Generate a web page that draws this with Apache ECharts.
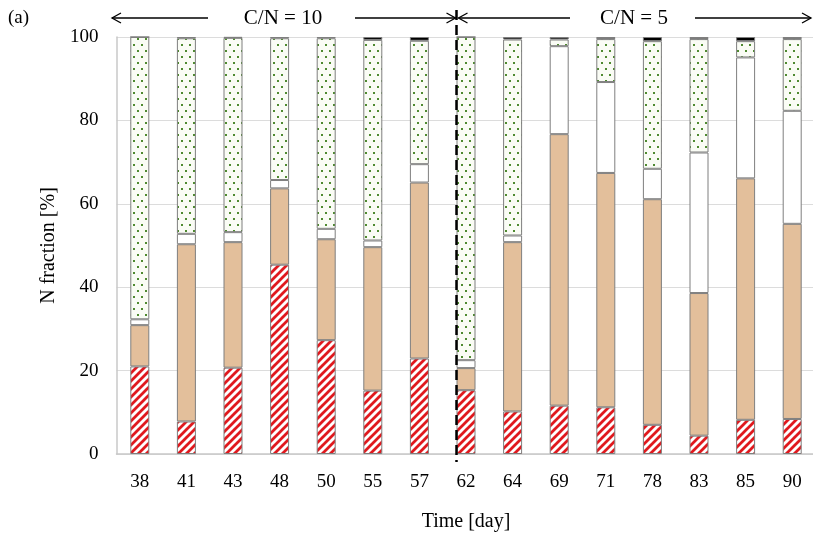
<!DOCTYPE html>
<html>
<head>
<meta charset="utf-8">
<script src="https://cdn.jsdelivr.net/npm/echarts@6/dist/echarts.min.js"></script>
<style>
  html, body { margin: 0; padding: 0; background: #fff; }
  #chart { width: 813px; height: 533px; }
</style>
</head>
<body>
<div id="chart"></div>
<script>
// time points (day)
var days = ['38', '41', '43', '48', '50', '55', '57', '62', '64', '69', '71', '78', '83', '85', '90'];
// N fractions [%], bottom to top of each bar
var hatched = [21.0, 7.8, 20.7, 45.4, 27.3, 15.2, 22.9, 15.3, 10.2, 11.6, 11.2, 7.0, 4.4, 8.2, 8.4];
var tan     = [9.9, 42.5, 30.1, 18.3, 24.2, 34.4, 42.2, 5.3, 40.6, 65.1, 56.2, 54.1, 34.2, 57.9, 46.8];
var blank   = [1.4, 2.5, 2.4, 2.0, 2.5, 1.6, 4.4, 1.9, 1.6, 21.1, 21.8, 7.3, 33.7, 29.0, 27.1];
var dotted  = [67.7, 46.9, 46.6, 34.0, 45.7, 48.1, 29.6, 77.5, 47.0, 1.6, 10.3, 30.6, 27.2, 3.9, 17.2];
var black   = [0, 0.3, 0.2, 0.3, 0.3, 0.7, 0.9, 0, 0.6, 0.6, 0.5, 1.0, 0.5, 1.0, 0.5];
var yTicks  = { min: 0, max: 100, interval: 20 };

var FONT = '"Liberation Serif", "DejaVu Serif", serif';

// red diagonal hatch
function hatchPattern() {
  var c = document.createElement('canvas');
  c.width = 8; c.height = 8;
  var g = c.getContext('2d');
  g.fillStyle = '#fff';
  g.fillRect(0, 0, 8, 8);
  g.strokeStyle = '#e0191e';
  g.lineWidth = 2.8;
  g.beginPath();
  g.moveTo(-2, 10); g.lineTo(10, -2);
  g.moveTo(-6, 6); g.lineTo(6, -6);
  g.moveTo(2, 14); g.lineTo(14, 2);
  g.stroke();
  return c;
}

// green dots
function dotPattern() {
  var c = document.createElement('canvas');
  c.width = 8; c.height = 12;
  var g = c.getContext('2d');
  g.fillStyle = '#fafcf5';
  g.fillRect(0, 0, 8, 12);
  g.fillStyle = '#4f8a30';
  g.fillRect(1, 2, 2, 2);
  g.fillRect(5, 8, 2, 2);
  return c;
}

function bar(name, data, color) {
  return {
    name: name,
    type: 'bar',
    stack: 'n',
    data: data,
    barWidth: 19,
    silent: true,
    itemStyle: { color: color, borderColor: '#7f7f7f', borderWidth: 1 }
  };
}

var chart = echarts.init(document.getElementById('chart'));
var option = {
  animation: false,
  backgroundColor: '#fff',
  grid: { left: 116.5, top: 37, width: 699, height: 417, outerBoundsMode: 'none', containLabel: false },
  xAxis: {
    type: 'category',
    data: days,
    name: 'Time [day]',
    nameLocation: 'middle',
    nameGap: 58,
    nameTextStyle: { fontFamily: FONT, fontSize: 20, color: '#000' },
    axisLine: { lineStyle: { color: '#c8c8c8', width: 1.5 } },
    axisTick: { show: false },
    axisLabel: { fontFamily: FONT, fontSize: 19, color: '#000', margin: 19 }
  },
  yAxis: {
    type: 'value',
    min: yTicks.min,
    max: yTicks.max,
    interval: yTicks.interval,
    name: 'N fraction [%]',
    nameLocation: 'middle',
    nameGap: 57,
    nameTextStyle: { fontFamily: FONT, fontSize: 20, color: '#000' },
    axisLine: { show: true, lineStyle: { color: '#c8c8c8', width: 1.5 } },
    axisTick: { show: false },
    splitLine: { lineStyle: { color: '#dcdcdc', width: 1.2 } },
    axisLabel: { fontFamily: FONT, fontSize: 19, color: '#000', margin: 18 }
  },
  series: [
    bar('hatched', hatched, { image: hatchPattern(), repeat: 'repeat' }),
    bar('tan', tan, '#e3bf9b'),
    bar('white', blank, '#ffffff'),
    bar('dotted', dotted, { image: dotPattern(), repeat: 'repeat' }),
    bar('black', black, '#000000')
  ]
};
chart.setOption(option);

// annotations: dashed separator and C/N arrows
var sepX = chart.convertToPixel({ xAxisIndex: 0 }, days[7]) - 9.5;
var ay = 18;
function head(x, dir) {
  return { type: 'polyline', shape: { points: [[x + dir * 9, ay - 5], [x, ay], [x + dir * 9, ay + 5]] },
    style: { stroke: '#000', lineWidth: 1.3, fill: null } };
}
function seg(x1, x2) {
  return { type: 'line', shape: { x1: x1, y1: ay, x2: x2, y2: ay }, style: { stroke: '#000', lineWidth: 1.3 } };
}
function label(x, t) {
  return { type: 'text', x: x, y: ay, style: { text: t, font: '21px ' + FONT, fill: '#000', align: 'center', verticalAlign: 'middle' } };
}
chart.setOption({
  graphic: [
    { type: 'text', x: 8, y: ay, style: { text: '(a)', font: '19px ' + FONT, fill: '#000', verticalAlign: 'middle' } },
    { type: 'line', shape: { x1: sepX, y1: 10, x2: sepX, y2: 462 },
      style: { stroke: '#000', lineWidth: 2.5, lineDash: [10, 5] }, z: 10 },
    head(112, 1), seg(112, 208), label(283, 'C/N = 10'), seg(355, sepX - 1), head(sepX - 1, -1),
    head(sepX + 2, 1), seg(sepX + 2, 570), label(634, 'C/N = 5'), seg(695, 811), head(811, -1)
  ]
});
</script>
</body>
</html>
